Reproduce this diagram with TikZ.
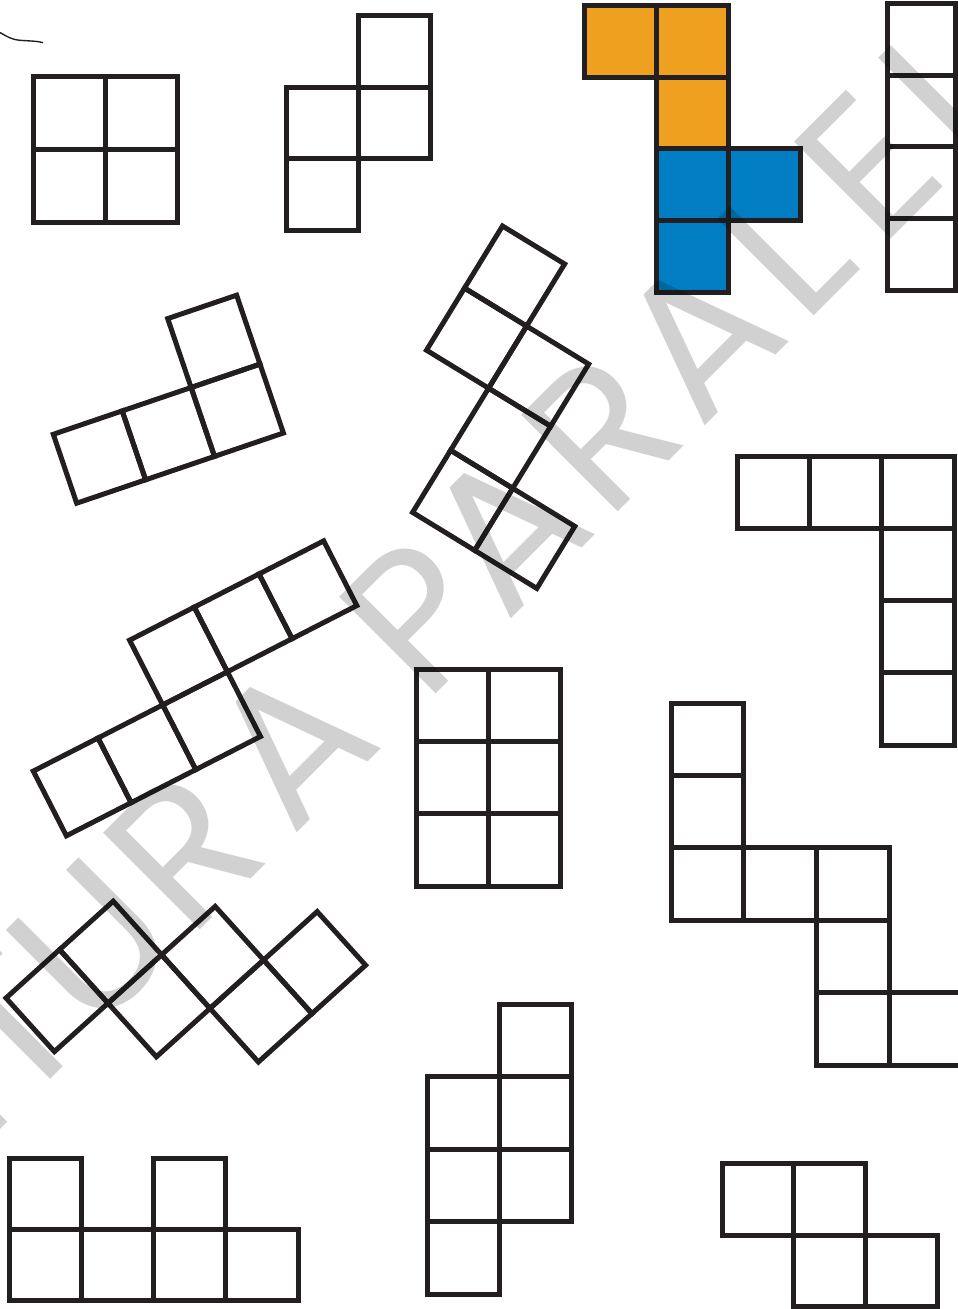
\documentclass[tikz,border=0pt]{standalone}
\usepackage{fontspec}
\newfontfamily\wmfont{Poppins}
\definecolor{linec}{HTML}{231F20}
\definecolor{orangec}{HTML}{EFA01E}
\definecolor{bluec}{HTML}{017DC4}
\newcommand\tiles[2][]{\foreach \ci/\cj in {#2}{\draw[tile,#1] (\ci,\cj) -- ++(1,0) -- ++(0,1) -- ++(-1,0) -- cycle;}}
\begin{document}
\begin{tikzpicture}[x=1pt,y=-1pt,
  tile/.style={draw=linec,line width=5pt,line join=miter},
  wm/.style={inner sep=0pt,outer sep=0pt,text=black,text opacity=0.18,
    font=\wmfont\fontsize{196}{196}\selectfont,
    rotate=45,anchor=base}]
\useasboundingbox (0,0) rectangle (958,1309);
\clip (0,0) rectangle (958,1309);

% small stroke top-left
\draw[linec,line width=1.4pt] (0,32.5) .. controls (6,36) and (11,39.5) .. (20,40.3)
  .. controls (29,41) and (37,41) .. (43,42.6);

% 2x2 square
\begin{scope}[shift={(33.5,76.5)},x=72pt,y=-72.75pt]
  \tiles{0/0,1/0,0/1,1/1}
\end{scope}
% S tetromino
\begin{scope}[shift={(286,15.5)},x=72pt,y=-71.7pt]
  \tiles{1/0,0/1,1/1,0/2}
\end{scope}
% coloured hexomino
\begin{scope}[shift={(584.3,5.7)},x=72.2pt,y=-71.6pt]
  \tiles[fill=orangec]{0/0,1/0,1/1}
  \tiles[fill=bluec]{1/2,2/2,1/3}
\end{scope}
% I tetromino at right edge
\begin{scope}[shift={(887.3,3.3)},x=68.3pt,y=-71.75pt]
  \tiles{0/0,0/1,0/2,0/3}
\end{scope}
% tilted L tetromino
\begin{scope}[shift={(76.7,503.2)},x={(68.9pt,23.4pt)},y={(-23.4pt,68.9pt)}]
  \tiles{0/0,1/0,2/0,2/1}
\end{scope}
% tilted hexomino (middle)
\begin{scope}[shift={(502.5,226)},x={(62.1pt,-38pt)},y={(-38pt,-62.1pt)}]
  \tiles{0/0,0/1,1/1,1/2,1/3,2/3}
\end{scope}
% tilted hexomino (left)
\begin{scope}[shift={(129.6,640.2)},x={(64.7pt,33.1pt)},y={(33.1pt,-64.7pt)}]
  \tiles{0/0,1/0,2/0,-2/1,-1/1,0/1}
\end{scope}
% 2x3 rectangle
\begin{scope}[shift={(416,669)},x=72pt,y=-72.4pt]
  \tiles{0/0,1/0,0/1,1/1,0/2,1/2}
\end{scope}
% L hexomino right
\begin{scope}[shift={(737.4,456)},x=72.2pt,y=-72.25pt]
  \tiles{0/0,1/0,2/0,2/1,2/2,2/3}
\end{scope}
% staircase octomino right
\begin{scope}[shift={(671,703)},x=72.8pt,y=-72.45pt]
  \tiles{0/0,0/1,0/2,1/2,2/2,2/3,2/4,3/4}
\end{scope}
% diagonal hexomino
\begin{scope}[shift={(6,998)},x={(53.6pt,48.4pt)},y={(48.4pt,-53.6pt)}]
  \tiles{0/0,1/0,1/1,2/1,2/2,3/2}
\end{scope}
% bottom middle hexomino
\begin{scope}[shift={(427,1004)},x=72.3pt,y=-72.5pt]
  \tiles{1/0,0/1,1/1,0/2,1/2,0/3}
\end{scope}
% bottom right tetromino
\begin{scope}[shift={(722,1163.5)},x=71.8pt,y=-71.6pt]
  \tiles{0/0,1/0,1/1,2/1}
\end{scope}
% bottom left hexomino
\begin{scope}[shift={(9,1158.3)},x=72.3pt,y=-70.9pt]
  \tiles{0/0,2/0,0/1,1/1,2/1,3/1}
\end{scope}

% watermark
\node[wm] (w1) at (1.4,1128.6) {I};
\node[wm] (w2) at (57.3,1072.7) {T};
\node[wm] (w3) at (139.3,990.7) {U};
\node[wm] (w4) at (232,898) {R};
\node[wm] (w5) at (339.4,790.6) {A};
\node[wm] (w6) at (465.3,664.7) {P};
\node[wm] (w7) at (553,577) {A};
\node[wm] (w8) at (649.9,480.1) {R};
\node[wm] (w9) at (746.7,383.3) {A};
\node[wm] (w10) at (833.7,296.3) {L};
\node[wm] (w11) at (916.4,213.6) {E};
\node[wm] (w12) at (994.9,135.1) {L};
\end{tikzpicture}
\end{document}
